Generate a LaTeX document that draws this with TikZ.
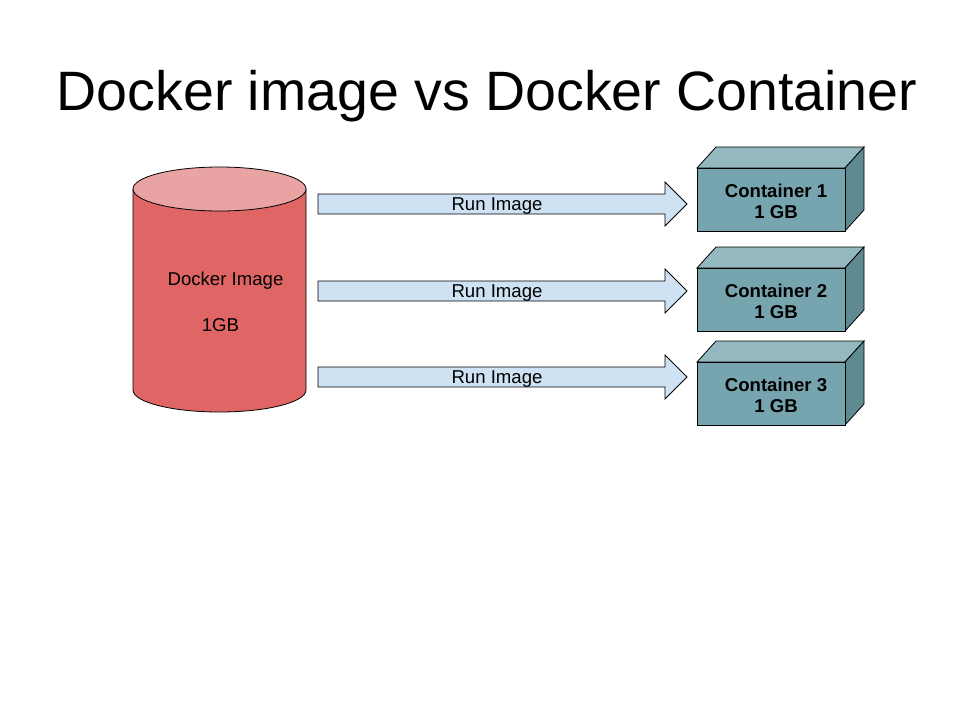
\documentclass[tikz,border=0pt]{standalone}
\usepackage{fontspec}
\setmainfont{Liberation Sans}
\definecolor{cylbody}{HTML}{E06666}
\definecolor{cyltop}{HTML}{EAA3A3}
\definecolor{arrfill}{HTML}{CFE2F3}
\definecolor{cubefront}{HTML}{76A5AF}
\definecolor{cubetop}{HTML}{93B8BF}
\definecolor{cubeside}{HTML}{5F8A91}
\begin{document}
\begin{tikzpicture}[x=1pt,y=-1pt,
  lbl/.style={font=\fontsize{18.6}{22}\selectfont, inner sep=0pt},
  cubelbl/.style={font=\fontsize{18.6}{21.5}\selectfont\bfseries, align=center, inner sep=0pt},
  fatarrow/.style={draw=black, fill=arrfill, line width=0.8pt, line join=miter},
  cubeface/.style={draw=black, line width=0.8pt, line join=miter}]
\useasboundingbox (0,0) rectangle (960,720);
% title
\node[font=\fontsize{55.5}{60}\selectfont, anchor=base, inner sep=0pt] (title) at (487,110) {Docker image vs Docker Container};
% cylinder
\fill[cylbody] (133,189) -- (133,390) arc[start angle=180, end angle=0, x radius=86.5, y radius=22] -- (306,189) -- cycle;
\draw[line width=0.8pt] (133,189) -- (133,390) arc[start angle=180, end angle=0, x radius=86.5, y radius=22] -- (306,189);
\draw[fill=cyltop, line width=0.8pt] (219.5,189) ellipse [x radius=86.5, y radius=22];
\node[lbl] (img) at (225.5,281) {Docker Image};
\node[lbl] (size) at (220.5,325) {1GB};
% cubes
\foreach \n/\t in {1/168, 2/268, 3/362} {
  \draw[cubeface, fill=cubetop] (697,\t) -- (716,\t-21) -- (864,\t-21) -- (845,\t) -- cycle;
  \draw[cubeface, fill=cubeside] (845,\t) -- (864,\t-21) -- (864,\t+42) -- (845,\t+63) -- cycle;
  \draw[cubeface, fill=cubefront] (697,\t) rectangle (845,\t+63);
  \node[cubelbl] (c\n) at (776,\t+33.5) {Container \n\\1 GB};
}
% arrows
\foreach \n/\m in {1/204, 2/291, 3/377} {
  \draw[fatarrow] (318,\m-10) -- (665,\m-10) -- (665,\m-22) -- (687,\m) -- (665,\m+22) -- (665,\m+10) -- (318,\m+10) -- cycle;
  \node[lbl] (r\n) at (497,\m+2) {Run Image};
}
\end{tikzpicture}
\end{document}
